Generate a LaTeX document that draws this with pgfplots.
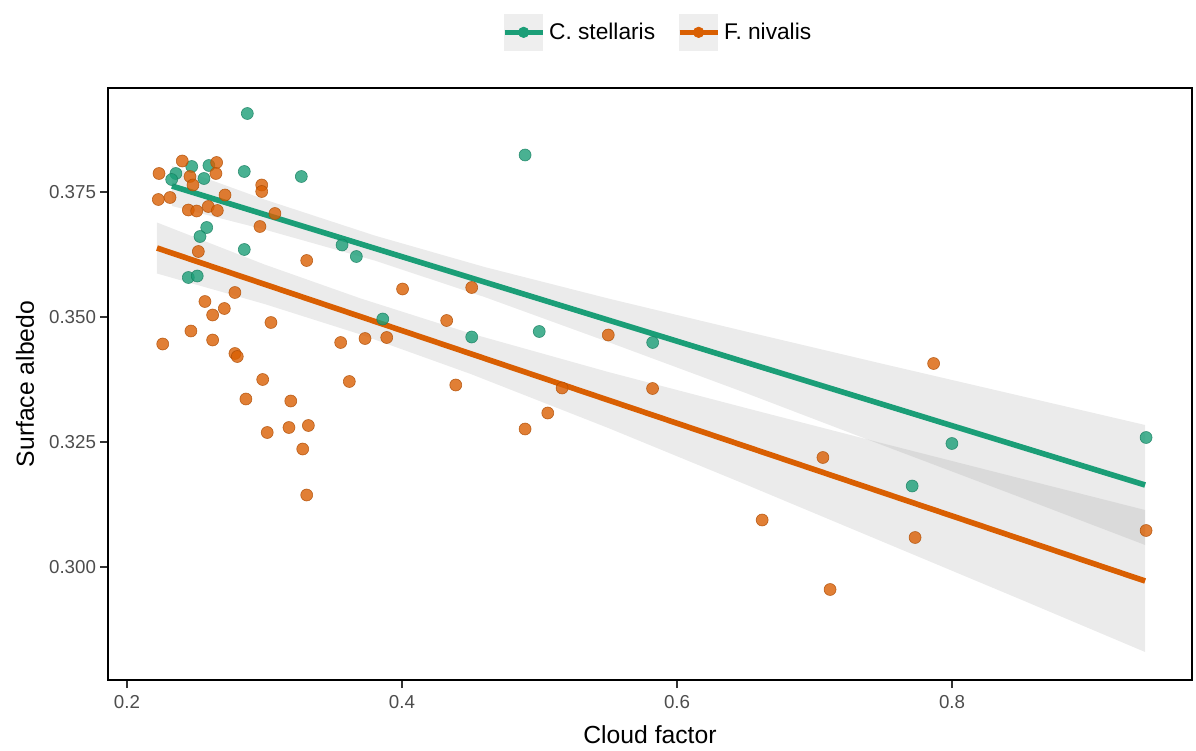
\documentclass[border=0pt]{standalone}
\usepackage{fontspec}
\setmainfont{Liberation Sans}
\usepackage{pgfplots}
\usepackage{pgfplotstable}
\pgfplotsset{compat=1.18}
\definecolor{cteal}{HTML}{1B9E77}
\definecolor{corange}{HTML}{D95F02}
\definecolor{ribgray}{HTML}{999999}
\definecolor{ticktext}{HTML}{4D4D4D}

\pgfplotstableread{
x y
0.2875 0.3907
0.4895 0.3824
0.2853 0.3791
0.3268 0.3781
0.2471 0.3801
0.2596 0.3803
0.2356 0.3787
0.2325 0.3775
0.2560 0.3777
0.2580 0.3679
0.2531 0.3661
0.2853 0.3635
0.2446 0.3579
0.2511 0.3582
0.3564 0.3644
0.3668 0.3621
0.3860 0.3496
0.4507 0.3460
0.4998 0.3471
0.5823 0.3449
0.7999 0.3247
0.7710 0.3162
0.9411 0.3259
}\tealpts

\pgfplotstableread{
x y
0.2402 0.3812
0.2652 0.3809
0.2233 0.3787
0.2458 0.3781
0.2480 0.3764
0.2647 0.3787
0.2980 0.3764
0.2980 0.3751
0.2228 0.3735
0.2313 0.3739
0.2713 0.3744
0.2446 0.3714
0.2507 0.3712
0.2591 0.3721
0.2657 0.3713
0.2967 0.3681
0.3307 0.3613
0.2519 0.3631
0.2785 0.3549
0.2567 0.3531
0.2708 0.3517
0.2623 0.3504
0.2465 0.3472
0.2260 0.3446
0.2623 0.3454
0.2785 0.3427
0.2802 0.3421
0.2987 0.3375
0.3047 0.3489
0.3191 0.3332
0.3020 0.3269
0.3178 0.3279
0.3319 0.3283
0.3278 0.3236
0.3307 0.3144
0.3554 0.3449
0.3731 0.3457
0.3889 0.3459
0.4004 0.3556
0.4507 0.3559
0.4325 0.3493
0.3617 0.3371
0.4391 0.3364
0.4895 0.3276
0.5060 0.3308
0.5500 0.3464
0.5822 0.3357
0.7866 0.3407
0.7061 0.3219
0.6619 0.3094
0.7731 0.3059
0.9411 0.3073
0.7113 0.2955
0.5164 0.3358
0.2865 0.3336
0.3076 0.3707
}\orangepts

\begin{document}
\begin{tikzpicture}
\begin{axis}[
  scale only axis, width=542bp, height=296bp,
  xmin=0.1862, xmax=0.9745, ymin=0.2774, ymax=0.3958,
  axis line style={black, line width=0.6bp},
  xtick={0.2,0.4,0.6,0.8}, ytick={0.300,0.325,0.350,0.375},
  xtick pos=left, ytick pos=left,
  tick align=outside, major tick length=4bp,
  tick style={color=black!80, line width=0.6bp},
  ticklabel style={font=\fontsize{9.4}{11}\selectfont, color=ticktext},
  xticklabel style={/pgf/number format/.cd, fixed, fixed zerofill, precision=1, assume math mode=true},
  yticklabel style={xshift=1.5bp, /pgf/number format/.cd, fixed, fixed zerofill, precision=3, assume math mode=true},
  scaled ticks=false,
  xlabel={Cloud factor}, ylabel={Surface albedo},
  label style={font=\fontsize{12.4}{14}\selectfont},
  xlabel style={at={(axis description cs:0.5,-0.0929)}, anchor=center},
  ylabel style={at={(axis description cs:-0.0766,0.5)}, anchor=center},
  legend style={at={(axis description cs:0.508,1.094)}, anchor=center, draw=none, fill=none,
    legend columns=2, font=\fontsize{11.4}{13}\selectfont,
    /tikz/every even column/.append style={column sep=9bp}},
  legend image code/.code={
    \fill[ribgray!17] (0bp,-9bp) rectangle (19bp,9bp);
    \draw[#1, line width=2.5bp] (0bp,0bp) -- (19bp,0bp);
    \fill[#1] (9.5bp,0bp) circle (2.6bp);
  },
]
% points
\addplot[forget plot, only marks, mark=*, mark size=3bp, color=cteal,
  mark options={fill=cteal, draw=cteal!80!black, line width=0.3bp, opacity=0.8}] table[x=x,y=y] {\tealpts};
\addplot[forget plot, only marks, mark=*, mark size=3bp, color=corange,
  mark options={fill=corange, draw=corange!80!black, line width=0.3bp, opacity=0.8}] table[x=x,y=y] {\orangepts};
% ribbons
\addplot[forget plot, draw=none, fill=ribgray, fill opacity=0.2] coordinates {
(0.2327,0.3802) (0.30,0.3735) (0.38,0.3663) (0.46,0.3600) (0.55,0.3537) (0.65,0.3471) (0.75,0.3406) (0.85,0.3342) (0.9404,0.3284)
(0.9404,0.3044) (0.85,0.3139) (0.75,0.3243) (0.65,0.3348) (0.55,0.3450) (0.46,0.3540) (0.38,0.3613) (0.30,0.3675) (0.2327,0.3722)
} -- cycle;
\addplot[forget plot, draw=none, fill=ribgray, fill opacity=0.2] coordinates {
(0.2218,0.3689) (0.30,0.3605) (0.37,0.3537) (0.45,0.3467) (0.55,0.3390) (0.65,0.3318) (0.75,0.3247) (0.85,0.3177) (0.9404,0.3114)
(0.9404,0.2830) (0.85,0.2935) (0.75,0.3050) (0.65,0.3165) (0.55,0.3278) (0.45,0.3386) (0.37,0.3465) (0.30,0.3526) (0.2218,0.3587)
} -- cycle;
% fitted lines
\addplot[forget plot, cteal, line width=2.8bp] coordinates {(0.2327,0.3762) (0.9404,0.3164)};
\addplot[forget plot, corange, line width=2.8bp] coordinates {(0.2218,0.3638) (0.9404,0.2972)};
\addlegendimage{color=cteal}
\addlegendentry{C. stellaris}
\addlegendimage{color=corange}
\addlegendentry{F. nivalis}
\end{axis}
\path ([shift={(-54bp,-35.5bp)}]current axis.south west) rectangle ([shift={(2bp,44bp)}]current axis.north east);
\end{tikzpicture}
\end{document}
